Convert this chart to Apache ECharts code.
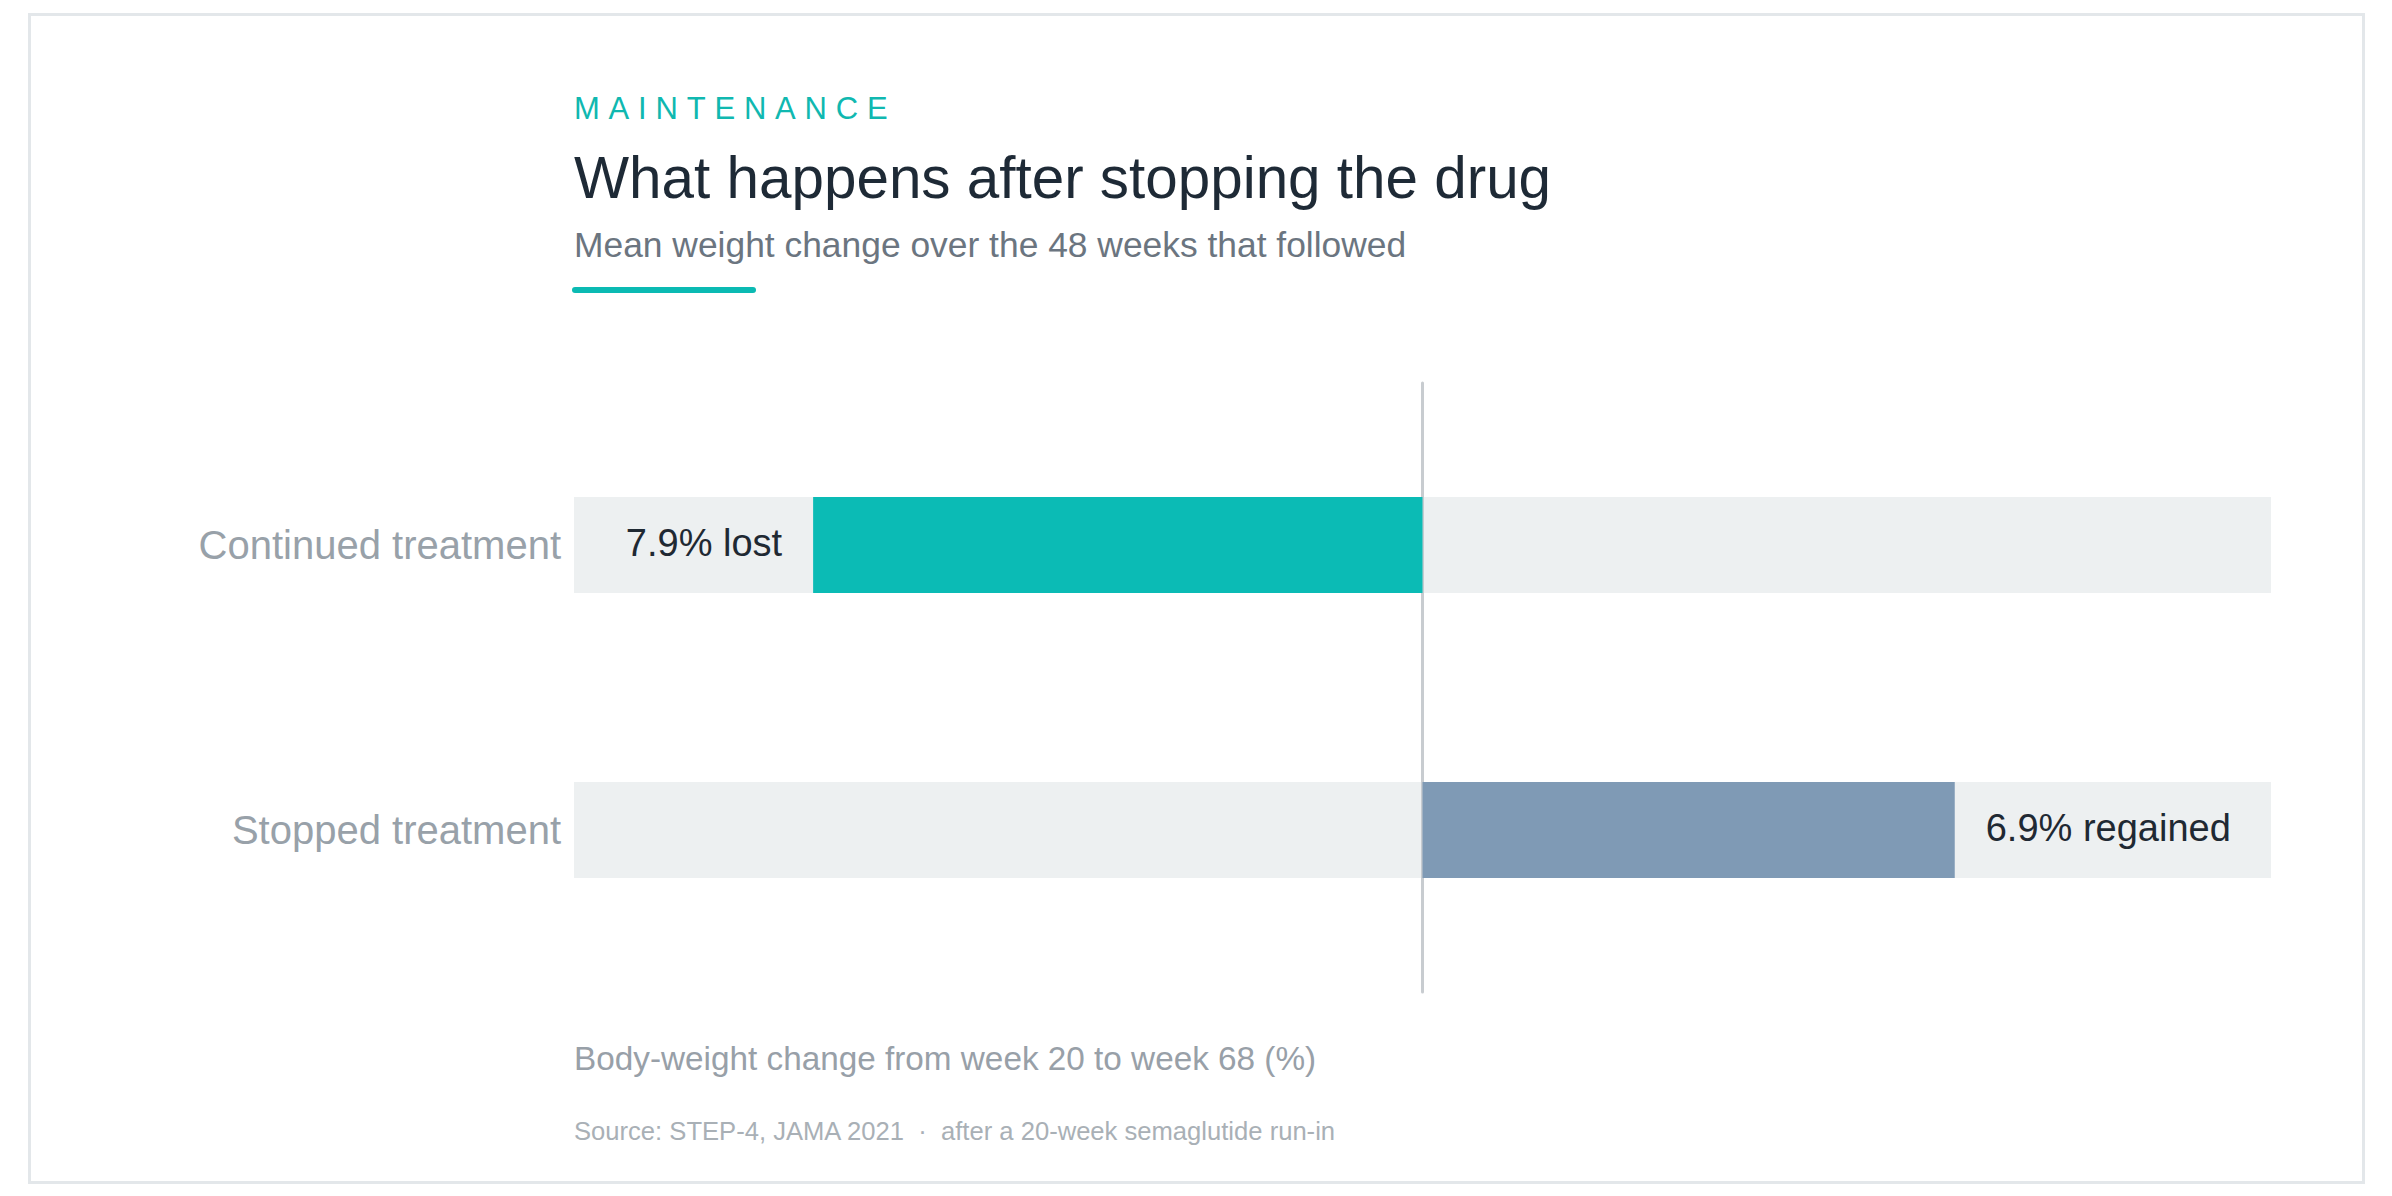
<!DOCTYPE html>
<html>
<head>
<meta charset="utf-8">
<title>What happens after stopping the drug</title>
<script src="https://cdn.jsdelivr.net/npm/echarts@6/dist/echarts.min.js"></script>
<style>
    html, body { margin: 0; padding: 0; background: #ffffff; }
    #chart { width: 2392px; height: 1196px; }
</style>
</head>
<body>
<div id="chart"></div>
<script>
// 数据
var categories = ['Continued treatment', 'Stopped treatment'];
var changeValues = [-7.9, 6.9];
var changeWords = ['lost', 'regained'];
var barColors = ['#0bbbb5', '#7f9ab5'];
var axisMin = -11;
var axisMax = 11;

var eyebrowText = 'MAINTENANCE';
var titleText = 'What happens after stopping the drug';
var subtitleText = 'Mean weight change over the 48 weeks that followed';
var axisNameText = 'Body-weight change from week 20 to week 68 (%)';
var sourceText = 'Source: STEP-4, JAMA 2021  \u00b7  after a 20-week semaglutide run-in';

var FONT = '"Liberation Sans", Arial, Helvetica, sans-serif';

var chart = echarts.init(document.getElementById('chart'), null, { renderer: 'svg' });

// 每一行的柱子, 负值标签放左边, 正值放右边
var barData = changeValues.map(function (v, i) {
    return {
        value: v,
        itemStyle: { color: barColors[i] },
        label: { position: v < 0 ? 'left' : 'right' }
    };
});

// 灰色底条只用 showBackground 画
var trackData = categories.map(function () { return 0; });

function headerText(text, y, size, color) {
    return {
        type: 'text',
        x: 574,
        y: y,
        silent: true,
        style: {
            text: text,
            fill: color,
            fontSize: size,
            fontFamily: FONT,
            textAlign: 'left',
            textVerticalAlign: 'middle',
            verticalAlign: 'middle'
        }
    };
}

var option = {
    backgroundColor: '#ffffff',
    animation: false,
    grid: [
        { left: 574, right: 121, top: 402.5, bottom: 223.5 },
        // 只用来画零线, 比上面的 grid 高一点
        { left: 574, right: 121, top: 383, bottom: 204 }
    ],
    xAxis: [
        { gridIndex: 0, type: 'value', min: axisMin, max: axisMax, show: false },
        { gridIndex: 1, type: 'value', min: axisMin, max: axisMax, show: false }
    ],
    yAxis: [
        {
            gridIndex: 0,
            type: 'category',
            inverse: true,
            data: categories,
            axisLine: { show: false },
            axisTick: { show: false },
            splitLine: { show: false },
            axisLabel: {
                margin: 13,
                color: '#98a1a9',
                fontSize: 40,
                fontFamily: FONT
            }
        },
        {
            gridIndex: 1,
            type: 'value',
            min: 0,
            max: 1,
            z: 2,
            axisLine: { show: true, onZero: true, lineStyle: { color: '#c8ccd0', width: 3 } },
            axisTick: { show: false },
            axisLabel: { show: false },
            splitLine: { show: false }
        }
    ],
    series: [
        {
            name: 'track',
            type: 'bar',
            xAxisIndex: 0,
            yAxisIndex: 0,
            z: 1,
            silent: true,
            barWidth: 96,
            barGap: '-100%',
            data: trackData,
            itemStyle: { color: 'rgba(0,0,0,0)' },
            showBackground: true,
            backgroundStyle: { color: '#edf0f1' }
        },
        {
            name: 'change',
            type: 'bar',
            xAxisIndex: 0,
            yAxisIndex: 0,
            z: 3,
            barWidth: 96,
            barGap: '-100%',
            data: barData,
            label: {
                show: true,
                distance: 31,
                offset: [0, -2],
                color: '#1f2933',
                fontSize: 38,
                fontFamily: FONT,
                formatter: function (p) {
                    return Math.abs(p.value).toFixed(1) + '% ' + changeWords[p.dataIndex];
                }
            }
        }
    ],
    graphic: [
        {
            type: 'rect',
            silent: true,
            shape: { x: 29.5, y: 14.5, width: 2334, height: 1168 },
            style: { fill: 'none', stroke: '#e3e7ea', lineWidth: 3 }
        },
        headerText(eyebrowText, 108, 31, '#10b8b0'),
        headerText(titleText, 177.5, 58.4, '#1e2a36'),
        headerText(subtitleText, 245, 35.4, '#6b7580'),
        {
            type: 'rect',
            silent: true,
            shape: { x: 572, y: 287, width: 184, height: 6, r: 3 },
            style: { fill: '#0bbab3' }
        },
        headerText(axisNameText, 1058, 33.3, '#98a0a8'),
        headerText(sourceText, 1131, 25.6, '#a9b0b6')
    ]
};

chart.setOption(option);

/**
 * 眉标字间距, echarts 文本没有 letterSpacing, 直接改 svg 节点
 */
function spaceEyebrow() {
    var nodes = document.querySelectorAll('#chart text');
    for (var i = 0; i < nodes.length; i++) {
        if (nodes[i].textContent === eyebrowText) {
            nodes[i].setAttribute('letter-spacing', '8.8');
        }
    }
}
spaceEyebrow();
chart.on('finished', spaceEyebrow);
</script>
</body>
</html>
